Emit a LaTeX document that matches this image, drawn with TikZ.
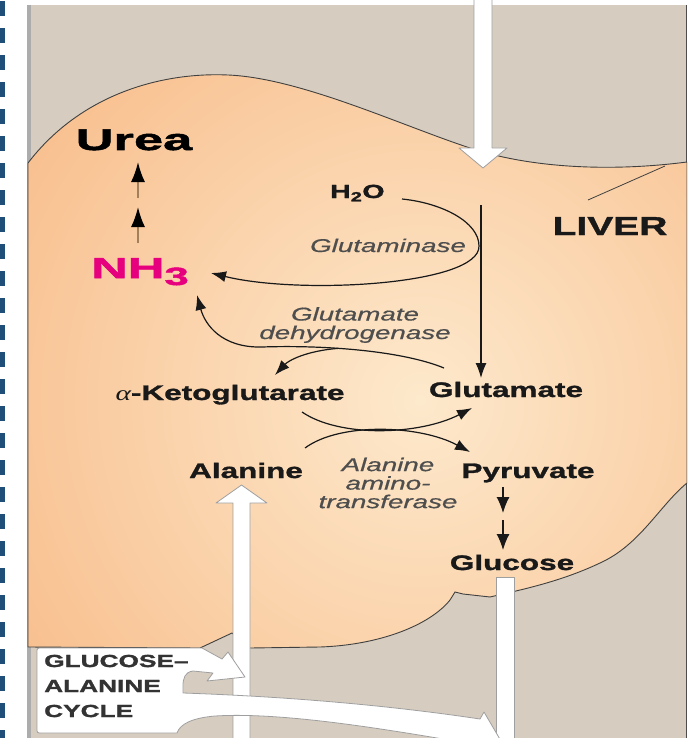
\documentclass[tikz,border=0pt]{standalone}
\usepackage{fontspec}
\setmainfont{Liberation Sans}[FakeStretch=1.5, BoldFeatures={FakeBold=1.4}, ItalicFeatures={FakeBold=0.6}]
\newfontfamily\widefont{Liberation Sans}[FakeStretch=1.75, BoldFeatures={FakeBold=1.8}]
\newfontfamily\alphafont{Liberation Serif}[FakeStretch=1.4]
\usetikzlibrary{arrows.meta}
\definecolor{framegray}{RGB}{214,205,192}
\definecolor{liverin}{RGB}{253,233,204}
\definecolor{liverout}{RGB}{247,180,126}
\definecolor{ammonia}{RGB}{230,0,126}
\definecolor{dashblue}{RGB}{31,78,121}
\definecolor{enzymegray}{RGB}{78,78,78}

% outline of the liver, in pixel units (y downwards)
\newcommand{\liveroutline}{(28,163) .. controls (80,95) and (160,72) .. (228,75)
    .. controls (300,78) and (400,125) .. (470,148)
    .. controls (530,168) and (610,172) .. (687,162)
    -- (687,483) .. controls (660,505) and (640,545) .. (600,563)
    .. controls (560,582) and (520,590) .. (490,597)
    -- (463,594) -- (455,592) -- (450,600)
    .. controls (430,625) and (380,645) .. (320,647)
    -- (250,648) -- (232,633) -- (200,648) -- (28,647) -- cycle}

\begin{document}
\begin{tikzpicture}[x=1pt, y=-1pt,
        chem/.style={font=\fontsize{21}{25}\selectfont\bfseries, text=black!90, inner sep=0pt},
        bigchem/.style={font=\widefont\fontsize{30}{30}\selectfont\bfseries, text=black, inner sep=0pt},
        enzyme/.style={font=\fontsize{18.5}{18.5}\selectfont\itshape, text=enzymegray,
                       align=center, inner sep=0pt},
        cyclelabel/.style={font=\fontsize{17.5}{25}\selectfont\bfseries, text=black!80,
                           align=left, inner sep=0pt},
        rxn/.style={draw=black!90, line width=1.2pt, -{Latex[length=15pt, width=11pt]}},
        steparrow/.style={draw=black!90, line width=1.2pt, -{Latex[length=16pt, width=13pt]}},
        ureaarrow/.style={draw=brown!55!gray, line width=1.8pt,
                          -{Latex[length=20pt, width=14pt, color=black]}},
        blockarrow/.style={fill=white, draw=gray!75, line width=0.8pt, line join=round},
        liver/.style={draw=black!75, line width=0.9pt},
    ]
    \useasboundingbox (0,0) rectangle (689,738);

    % ---- frame and margin ----
    \fill[white] (0,0) rectangle (689,738);
    \draw[dashblue, line width=5pt, dash pattern=on 15pt off 12pt] (2.5,1) -- (2.5,738);
    \fill[framegray] (27,5) rectangle (687,738);
    \draw[gray!65, line width=4pt] (29,5) -- (29,738);
    \draw[black!70, line width=1.2pt] (686.4,5) -- (686.4,738);

    \begin{scope}
        \clip (27,0) rectangle (687,738);
        % ---- liver ----
        \draw[liver, path picture={
                \shade[inner color=liverin, outer color=liverout] (420,400) circle (600);}]
            \liveroutline;

        % ---- white transport arrows ----
        \draw[blockarrow] (474,-2) -- (474,148) -- (459,148) -- (483,168) -- (507,148)
            -- (492,148) -- (492,-2) -- cycle;
        \draw[blockarrow] (233,745) -- (233,503) -- (216,503) -- (241.5,485) -- (267,503)
            -- (250,503) -- (250,745) -- cycle;
        \draw[blockarrow] (496,745) -- (496,577) -- (514,577) -- (514,745) -- cycle;

        % ---- glucose-alanine cycle box ----
        \draw[blockarrow] (42,733) .. controls (37,733) .. (37,728) -- (37,653)
            .. controls (37,648) .. (42,648) -- (202,648) -- (222,659) -- (228,652)
            -- (245,677) -- (207,681) -- (213,673) -- (193,671)
            .. controls (185,672) and (183,678) .. (183,686) -- (183,693)
            .. controls (300,697) and (400,707) .. (480,719) -- (484,712) -- (501,741)
            -- (470,752) -- (472,744)
            .. controls (380,728) and (280,712) .. (215,716)
            .. controls (192,718) and (180,724) .. (177,733) -- cycle;
    \end{scope}

    % ---- labels ----
    \node[bigchem, anchor=base] (Urea) at (134,150) {Urea};
    \node[bigchem, text=ammonia, font=\widefont\fontsize{29}{29}\selectfont\bfseries,
          anchor=base west] (NH3) at (91,278) {NH\raisebox{-7pt}{\fontsize{25}{25}\selectfont 3}};
    \node[chem, font=\fontsize{19}{19}\selectfont\bfseries, anchor=base west] (H2O)
        at (330,198) {H\textsubscript{2}O};
    \node[enzyme, anchor=base] (Glnase) at (388,252) {Glutaminase};
    \node[chem, font=\fontsize{26}{26}\selectfont\bfseries, anchor=base] (LIVER)
        at (610,235) {LIVER};
    \node[enzyme] (GDH) at (355,325) {Glutamate\\dehydrogenase};
    \node[chem, anchor=base] (aKG) at (230,400) {{\alphafont\mdseries\itshape α}-Ketoglutarate};
    \node[chem, anchor=base] (Glu) at (506,397) {Glutamate};
    \node[chem, anchor=base] (Ala) at (246,478) {Alanine};
    \node[enzyme] (ALT) at (388,483) {Alanine\\amino-\\transferase};
    \node[chem, anchor=base] (Pyr) at (528,478) {Pyruvate};
    \node[chem, anchor=base] (Glc) at (512,570) {Glucose};
    \node[cyclelabel, anchor=west] (cycle) at (44,686) {GLUCOSE\textendash\\ALANINE\\CYCLE};

    % ---- liver pointer ----
    \coordinate (liveredge) at (665,166);
    \draw[black!75, line width=0.8pt] ([xshift=-22pt, yshift=35pt]LIVER.base) -- (liveredge);

    % ---- NH3 -> Urea ----
    \foreach \a/\b in {35/71, 80/116} {
        \draw[ureaarrow] ([xshift=47pt, yshift=\a pt]NH3.base west)
            -- ([xshift=47pt, yshift=\b pt]NH3.base west);
    }

    % ---- Pyruvate -> Glucose ----
    \foreach \a/\b in {-9/-35, -42/-72} {
        \draw[steparrow] ([xshift=-25pt, yshift=\a pt]Pyr.base)
            -- ([xshift=-25pt, yshift=\b pt]Pyr.base);
    }

    % ---- glutaminase: glutamine -> glutamate + NH3 ----
    \draw[rxn] ([xshift=-25pt, yshift=192pt]Glu.base) -- ([xshift=-25pt, yshift=19pt]Glu.base);
    \draw[rxn] ([xshift=72pt, yshift=-1pt]H2O.base west)
        .. controls (442,203) and (479,222) .. (479,246)
        .. controls (480,285) and (300,295) .. ([xshift=120pt, yshift=5pt]NH3.base west);

    % ---- glutamate dehydrogenase ----
    \draw[rxn] ([xshift=-62pt, yshift=29pt]Glu.base)
        .. controls (400,350) and (320,345) .. (262,347) coordinate[pos=0.6] (gdhsplit)
        .. controls (222,348) and (205,325) .. ([xshift=106pt, yshift=-17pt]NH3.base west);
    \draw[rxn] (gdhsplit) .. controls (305,351) and (288,361) .. ([xshift=45pt, yshift=25pt]aKG.base);

    % ---- alanine aminotransferase ----
    \draw[rxn] ([xshift=72pt, yshift=-12pt]aKG.base)
        .. controls (340,438) and (420,435) .. ([xshift=-34pt, yshift=-11pt]Glu.base);
    \draw[rxn] ([xshift=59pt, yshift=30pt]Ala.base)
        .. controls (340,422) and (420,425) .. ([xshift=-58pt, yshift=26pt]Pyr.base);
\end{tikzpicture}
\end{document}
